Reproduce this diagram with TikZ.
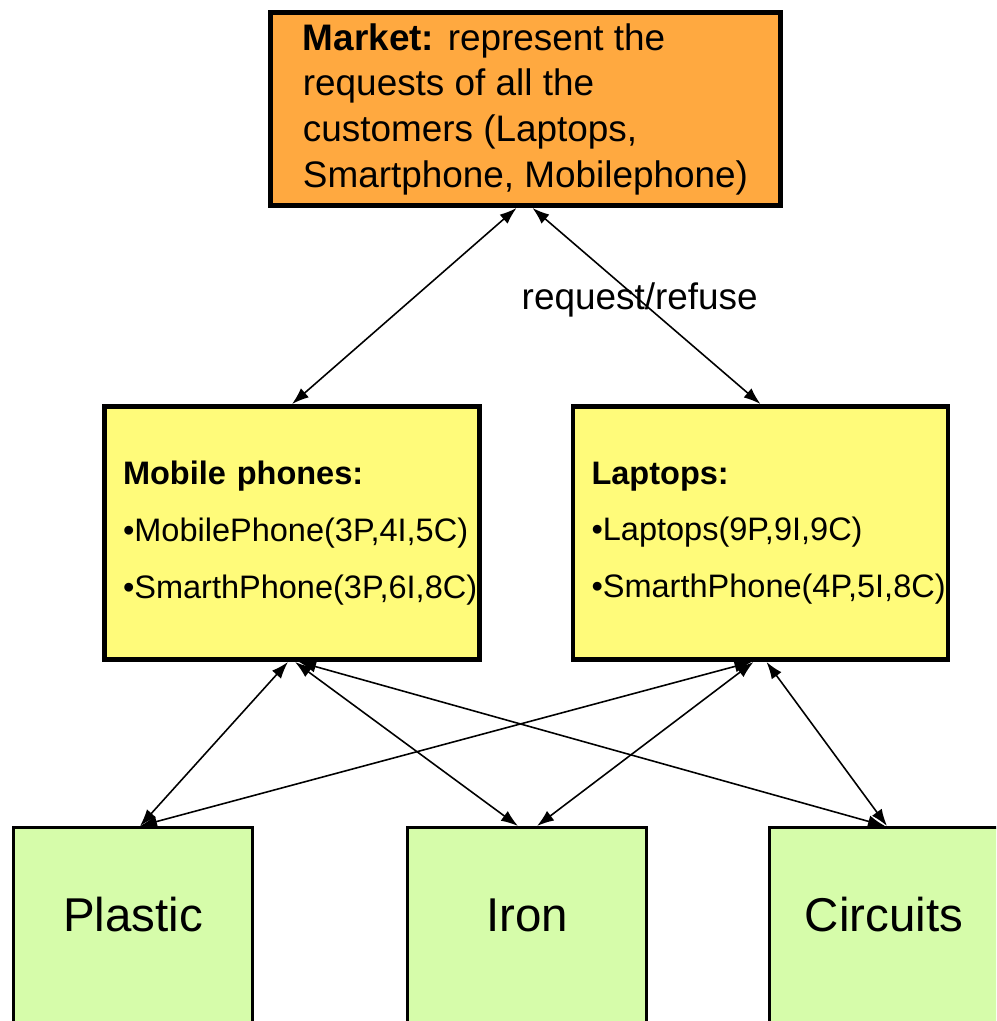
\documentclass[tikz,border=0pt]{standalone}
\usepackage{fontspec}
\setmainfont{Liberation Sans}
\usetikzlibrary{arrows.meta}
\definecolor{marketorange}{RGB}{255,169,64}
\definecolor{productyellow}{RGB}{255,251,122}
\definecolor{materialgreen}{RGB}{214,252,170}

\begin{document}
\begin{tikzpicture}[market/.style={draw, line width=2.8pt, fill=marketorange, minimum width=10.2cm, minimum height=3.86cm,
                      align=left, font=\fontsize{21}{26}\selectfont},
                    product/.style={draw, line width=2.8pt, fill=productyellow, minimum width=7.5cm, minimum height=5.06cm,
                      text width=6.76cm, align=left, font=\fontsize{18.5}{32.3}\selectfont},
                    material/.style={draw, line width=1.7pt, fill=materialgreen, minimum width=4.78cm, anchor=north,
                      inner ysep=0pt, text height=2.08cm, text depth=4cm, font=\fontsize{27}{32}\selectfont},
                    link/.style={{Latex[length=3.4mm,width=2.4mm]}-{Latex[length=3.4mm,width=2.4mm]}, line width=0.9pt}]
  \clip (0,0) rectangle (19.92,-20.42);

  \node[market] (market) at (10.51,-2.18)
    {\textbf{Market:} represent the\\requests of all the\\customers (Laptops,\\Smartphone, Mobilephone)};

  \node[product] (mobile) at (5.84,-10.66)
    {\textbf{Mobile phones:}\\•MobilePhone(3P,4I,5C)\\•SmarthPhone(3P,6I,8C)};
  \node[product] (laptops) at (15.21,-10.66)
    {\textbf{Laptops:}\\•Laptops(9P,9I,9C)\\•SmarthPhone(4P,5I,8C)};

  \node[material] (plastic) at (2.66,-16.52) {Plastic};
  \node[material] (iron) at (10.54,-16.52) {Iron};
  \node[material] (circuits) at (17.78,-16.52) {\hspace{-0.2cm}Circuits};

  % market <-> products
  \draw[link] ([xshift=-0.18cm]market.south) -- (mobile.north);
  \draw[link] ([xshift=0.14cm]market.south) --
    node[pos=0.47, font=\fontsize{21}{25}\selectfont] (reply) {request/refuse} (laptops.north);

  % products <-> materials
  \draw[link] ([xshift=-0.08cm]mobile.south) -- ([xshift=0.14cm]plastic.north);
  \draw[link] ([xshift=0.06cm]mobile.south) -- ([xshift=-0.18cm]iron.north);
  \draw[link] ([xshift=0.14cm]mobile.south) -- ([xshift=-0.08cm]circuits.north);
  \draw[link] ([xshift=-0.18cm]laptops.south) -- ([xshift=0.14cm]plastic.north);
  \draw[link] ([xshift=-0.14cm]laptops.south) -- ([xshift=0.2cm]iron.north);
  \draw[link] ([xshift=0.12cm]laptops.south) -- ([xshift=-0.04cm]circuits.north);
\end{tikzpicture}
\end{document}
